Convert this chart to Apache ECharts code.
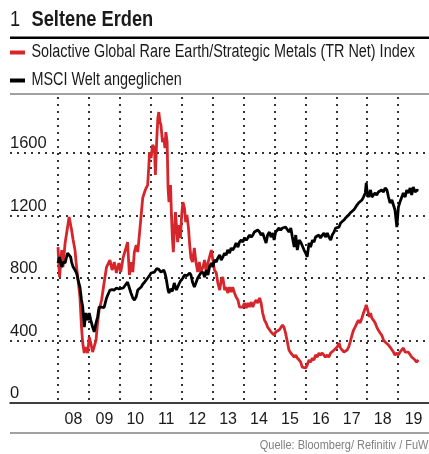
<!DOCTYPE html>
<html>
<head>
<meta charset="utf-8">
<script src="https://cdn.jsdelivr.net/npm/echarts@6/dist/echarts.min.js"></script>
<style>
html,body{margin:0;padding:0;background:#fff;}
#chart{width:429px;height:454px;}
</style>
</head>
<body>
<div id="chart"></div>
<script>
var FONT = '"Liberation Sans", Arial, sans-serif'

// Jahreslabels der x-Achse
var yearLabels = ['08','09','10','11','12','13','14','15','16','17','18','19']

// Zeitpunkte (Dezimaljahre)
var dates = [
  2008.00,2008.05,2008.12,2008.16,2008.23,2008.31,2008.36,2008.41,2008.44,2008.49,2008.55,2008.60,2008.65,2008.71,2008.76,2008.80,2008.85,2008.90,2008.96,
  2009.01,2009.06,2009.12,2009.17,2009.23,2009.28,2009.33,2009.41,2009.49,2009.57,2009.68,2009.75,2009.82,2009.89,2009.97,
  2010.03,2010.11,2010.18,2010.25,2010.31,2010.36,2010.42,2010.47,2010.53,2010.58,2010.64,2010.69,2010.74,2010.80,2010.85,2010.90,2010.94,2010.96,
  2011.01,2011.06,2011.12,2011.15,2011.19,2011.23,2011.26,2011.30,2011.33,2011.38,2011.42,2011.46,2011.49,2011.53,2011.56,2011.59,2011.64,2011.67,2011.70,2011.73,2011.76,2011.80,2011.83,2011.87,2011.91,2011.96,
  2012.00,2012.04,2012.09,2012.13,2012.17,2012.22,2012.26,2012.30,2012.35,2012.41,2012.46,2012.52,2012.57,2012.62,2012.69,2012.74,2012.80,2012.85,2012.90,2012.96,
  2013.01,2013.06,2013.12,2013.17,2013.23,2013.28,2013.33,2013.39,2013.44,2013.49,2013.55,2013.60,2013.65,2013.71,2013.76,2013.82,2013.87,2013.93,2013.98,
  2014.03,2014.09,2014.14,2014.19,2014.25,2014.30,2014.35,2014.41,2014.46,2014.52,2014.57,2014.62,2014.68,2014.73,2014.78,2014.84,2014.89,2014.95,2014.99,
  2015.04,2015.10,2015.15,2015.20,2015.26,2015.31,2015.36,2015.42,2015.47,2015.53,2015.58,2015.64,2015.69,2015.74,2015.80,2015.85,2015.90,2015.96,
  2016.01,2016.06,2016.12,2016.17,2016.23,2016.28,2016.33,2016.39,2016.44,2016.49,2016.55,2016.60,2016.65,2016.71,2016.76,2016.82,2016.87,2016.93,2016.98,
  2017.03,2017.09,2017.14,2017.19,2017.25,2017.30,2017.35,2017.40,2017.45,2017.51,2017.56,2017.61,2017.67,2017.72,2017.77,2017.83,2017.88,2017.94,2017.97,
  2018.00,2018.04,2018.07,2018.11,2018.15,2018.20,2018.26,2018.31,2018.36,2018.42,2018.47,2018.53,2018.58,2018.64,2018.69,2018.74,2018.80,2018.85,2018.90,2018.96,
  2019.01,2019.06,2019.12,2019.17,2019.23,2019.28,2019.33,2019.39,2019.44,2019.49,2019.55,2019.60,2019.66
]

// Solactive Global Rare Earth/Strategic Metals (TR Net) Index
var rareEarth = [
  998,806,979,870,1024,1126,1190,1180,1107,1043,979,870,787,678,486,384,320,358,320,
  422,384,326,320,403,512,595,659,768,870,915,851,902,832,896,
  838,934,979,1030,819,902,838,966,1011,966,1094,1203,1312,1350,1376,1395,1523,1606,
  1568,1651,1632,1459,1670,1824,1862,1798,1779,1670,1696,1632,1734,1670,1376,1286,1395,1203,1056,966,1094,1222,1139,1030,1139,1056,
  1203,1286,1248,1158,1203,1120,1011,928,902,992,902,838,902,838,870,915,832,896,934,979,
  915,851,832,768,723,787,806,723,742,704,742,710,742,704,678,659,614,608,614,
  640,608,640,614,646,614,640,659,640,672,640,576,531,512,486,480,454,448,435,
  454,448,467,480,499,486,448,390,339,320,326,294,307,288,275,262,230,224,
  224,243,275,262,288,275,307,294,320,307,320,307,294,307,294,320,326,339,339,
  358,384,352,339,326,326,339,358,390,435,467,486,512,531,512,544,576,608,627,
  608,576,550,576,544,531,512,486,467,448,435,403,390,384,371,358,352,326,307,320,
  307,326,320,352,326,320,326,320,294,294,275,262,275
]

// MSCI Welt angeglichen
var msciWorld = [
  896,934,870,902,896,960,955,934,902,870,851,832,787,742,659,614,486,576,530,
  576,531,486,455,512,550,614,614,610,672,723,725,723,736,730,
  742,736,755,774,768,704,672,659,680,723,735,742,760,774,785,800,810,815,
  832,835,838,850,860,870,855,845,838,845,851,830,806,760,723,704,730,742,715,704,768,740,723,742,760,780,
  790,800,819,830,815,806,832,819,774,742,768,800,806,832,838,806,851,819,870,896,
  870,915,902,928,947,915,934,960,947,979,960,992,979,998,1024,998,1030,1043,1030,
  1056,1043,1056,1075,1062,1075,1094,1088,1107,1094,1075,1088,1094,1024,1075,1094,1062,1088,1043,
  1094,1094,1120,1107,1120,1126,1126,1120,1094,1120,1062,998,1075,979,1043,1030,1024,979,
  960,935,1024,998,1043,1030,1062,1056,1075,1056,1075,1088,1062,1088,1062,1043,1075,1094,1120,
  1126,1126,1152,1158,1171,1184,1190,1203,1216,1222,1235,1248,1267,1280,1286,1299,1318,1344,1408,
  1350,1318,1340,1363,1318,1331,1344,1331,1350,1344,1363,1350,1376,1363,1318,1280,1299,1267,1235,1126,
  1254,1286,1318,1344,1318,1363,1344,1376,1331,1382,1350,1363,1360
]

var seriesNames = ['Solactive Global Rare Earth/Strategic Metals (TR Net) Index', 'MSCI Welt angeglichen']
var seriesColors = ['#d7262b', '#000']

var Y_MAX = 1958.4
var dotted = { color: '#333', width: 2, type: [2, 5] }
var SQUEEZE = 0.8 // schmale Schrift nachbilden

function pairs(vals){
  return dates.map(function (d, i) { return [d, vals[i]] })
}

/* Titel, Legende, Quelle */
function buildGraphic(){
  var g = [
    { type: 'text', x: 10, y: 20, scaleX: 0.83,
      style: { text: '1', font: '22px ' + FONT, fill: '#1a1a1a', verticalAlign: 'middle' } },
    { type: 'text', x: 31.5, y: 20, scaleX: 0.83,
      style: { text: 'Seltene Erden', font: 'bold 22px ' + FONT, fill: '#1a1a1a', verticalAlign: 'middle' } },
    { type: 'rect', shape: { x: 10, y: 36.5, width: 419, height: 2.5 }, style: { fill: '#000' } },
    { type: 'rect', shape: { x: 10, y: 93.5, width: 419, height: 1 }, style: { fill: '#444' } },
    { type: 'rect', shape: { x: 10, y: 432.5, width: 419, height: 1 }, style: { fill: '#444' } },
    { type: 'text', x: 428.5, y: 446, scaleX: 0.88,
      style: { text: 'Quelle: Bloomberg/ Refinitiv / FuW', font: '12.5px ' + FONT, fill: '#808080',
        align: 'right', verticalAlign: 'middle' } }
  ]
  var rowY = [52.5, 80.5]
  seriesNames.forEach(function (name, i) {
    g.push({ type: 'rect', shape: { x: 10, y: rowY[i] - 2, width: 15, height: 4 }, style: { fill: seriesColors[i] } })
    g.push({ type: 'text', x: 31.5, y: rowY[i], scaleX: SQUEEZE,
      style: { text: name, font: '18px ' + FONT, fill: '#1a1a1a', verticalAlign: 'middle' } })
  })
  return g
}

var myChart = echarts.init(document.getElementById('chart'), null, { renderer: 'canvas' })

var option = {
  animation: false,
  backgroundColor: '#fff',
  textStyle: { fontFamily: FONT },
  grid: [
    { left: 10, top: 97, width: 419, height: 306 },
    { left: 58, top: 97, width: 372, height: 306 }
  ],
  xAxis: [
    {
      gridIndex: 0, type: 'value', min: 0, max: 1,
      axisLine: { show: true, lineStyle: { color: '#000', width: 1.5 } },
      axisTick: { show: false }, axisLabel: { show: false }, splitLine: { show: false }
    },
    {
      gridIndex: 1, type: 'value', min: 2008, max: 2020, interval: 1,
      axisLine: { show: false }, axisTick: { show: false }, axisLabel: { show: false },
      splitLine: { show: true, showMinLine: true, showMaxLine: false, lineStyle: dotted }
    },
    {
      gridIndex: 1, type: 'category', data: yearLabels, boundaryGap: true, position: 'bottom',
      axisLine: { show: false }, axisTick: { show: false }, splitLine: { show: false },
      axisLabel: { fontFamily: FONT, fontSize: 16, color: '#1a1a1a', margin: 9 }
    }
  ],
  yAxis: [
    {
      gridIndex: 0, type: 'value', min: 0, max: Y_MAX, interval: 400,
      axisLine: { show: false }, axisTick: { show: false },
      axisLabel: {
        inside: true, showMaxLabel: false, margin: 0, verticalAlign: 'bottom',
        fontFamily: FONT, fontSize: 16.5, color: '#1a1a1a', padding: [0, 0, 1, 0],
        formatter: function (v) { return String(v) }
      },
      splitLine: { show: true, showMinLine: false, showMaxLine: false, lineStyle: dotted }
    },
    { gridIndex: 1, type: 'value', min: 0, max: Y_MAX, show: false }
  ],
  series: [
    {
      name: seriesNames[0],
      type: 'line', xAxisIndex: 1, yAxisIndex: 1,
      showSymbol: false, symbol: 'none',
      color: seriesColors[0],
      lineStyle: { color: seriesColors[0], width: 2.8 },
      data: pairs(rareEarth)
    },
    {
      name: seriesNames[1],
      type: 'line', xAxisIndex: 1, yAxisIndex: 1,
      showSymbol: false, symbol: 'none',
      color: seriesColors[1],
      lineStyle: { color: seriesColors[1], width: 2.8 },
      data: pairs(msciWorld)
    }
  ],
  graphic: buildGraphic()
}

myChart.setOption(option)
</script>
</body>
</html>
